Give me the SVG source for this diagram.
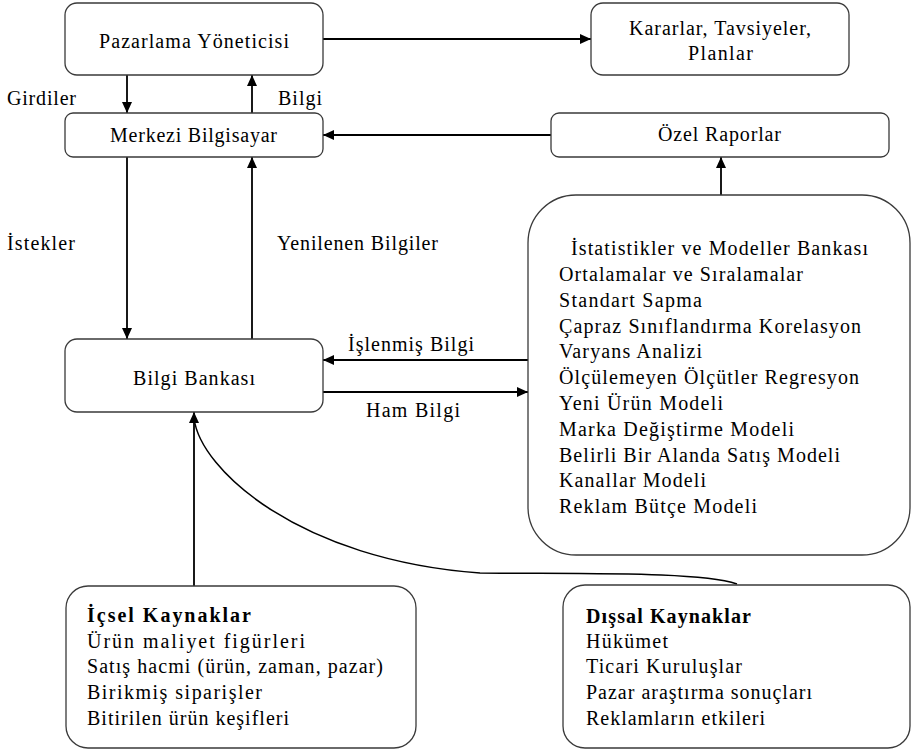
<svg xmlns="http://www.w3.org/2000/svg" width="912" height="750" viewBox="0 0 912 750">
  <style>
    .box { fill: #ffffff; stroke: #3a3a3a; stroke-width: 1.3; }
    .t { font-family: "Liberation Serif", "Times New Roman", serif; font-size: 20px; fill: #000; }
    .b { font-weight: bold; }
    .edge { fill: none; stroke: #000; stroke-width: 1.8; }
    .curve { fill: none; stroke: #000; stroke-width: 1.5; }
  </style>
  <defs>
    <marker id="arrow" markerUnits="userSpaceOnUse" markerWidth="12" markerHeight="10" refX="11" refY="5" orient="auto">
      <path d="M0,0 L11,5 L0,10 z" fill="#000"/>
    </marker>
  </defs>
  <rect width="912" height="750" fill="#ffffff"/>

  <g id="connectors">
    <line class="edge" x1="127" y1="75" x2="127" y2="113" marker-end="url(#arrow)"/>
    <line class="edge" x1="252" y1="113" x2="252" y2="75" marker-end="url(#arrow)"/>
    <line class="edge" x1="323" y1="39" x2="591" y2="39" marker-end="url(#arrow)"/>
    <line class="edge" x1="551" y1="135" x2="323" y2="135" marker-end="url(#arrow)"/>
    <line class="edge" x1="721" y1="195" x2="721" y2="157" marker-end="url(#arrow)"/>
    <line class="edge" x1="127" y1="157" x2="127" y2="339" marker-end="url(#arrow)"/>
    <line class="edge" x1="252" y1="339" x2="252" y2="157" marker-end="url(#arrow)"/>
    <line class="edge" x1="528" y1="360" x2="323" y2="360" marker-end="url(#arrow)"/>
    <line class="edge" x1="323" y1="392" x2="528" y2="392" marker-end="url(#arrow)"/>
    <line class="edge" x1="194" y1="586" x2="194" y2="412" marker-end="url(#arrow)"/>
    <path class="curve" d="M194,418 C200,470 300,560 480,573 C600,574 700,572 737,584"/>
    <text class="t" x="7" y="105" textLength="69">Girdiler</text>
    <text class="t" x="278" y="105" textLength="44">Bilgi</text>
    <text class="t" x="7" y="250" textLength="68">İstekler</text>
    <text class="t" x="277" y="250" textLength="161">Yenilenen Bilgiler</text>
    <text class="t" x="348" y="351" textLength="126">İşlenmiş Bilgi</text>
    <text class="t" x="366" y="417" textLength="94">Ham Bilgi</text>
  </g>

  <g id="pazarlama-yoneticisi">
    <rect class="box" x="65" y="3" width="258" height="72" rx="12"/>
    <text class="t" x="99" y="48" textLength="190">Pazarlama Yöneticisi</text>
  </g>

  <g id="kararlar">
    <rect class="box" x="591" y="3" width="258" height="72" rx="12"/>
    <text class="t" x="629" y="35" textLength="182">Kararlar, Tavsiyeler,</text>
    <text class="t" x="688" y="60" textLength="65">Planlar</text>
  </g>

  <g id="merkezi-bilgisayar">
    <rect class="box" x="65" y="113" width="258" height="44" rx="8"/>
    <text class="t" x="110" y="142" textLength="167">Merkezi Bilgisayar</text>
  </g>

  <g id="ozel-raporlar">
    <rect class="box" x="551" y="113" width="338" height="44" rx="8"/>
    <text class="t" x="658" y="141" textLength="123">Özel Raporlar</text>
  </g>

  <g id="bilgi-bankasi">
    <rect class="box" x="65" y="339" width="258" height="73" rx="12"/>
    <text class="t" x="133" y="385" textLength="122">Bilgi Bankası</text>
  </g>

  <g id="istatistikler">
    <rect class="box" x="528" y="195" width="382" height="360" rx="48"/>
    <text class="t" x="571" y="255" textLength="297">İstatistikler ve Modeller Bankası</text>
    <text class="t" x="559" y="281" textLength="244">Ortalamalar ve Sıralamalar</text>
    <text class="t" x="559" y="307" textLength="143">Standart Sapma</text>
    <text class="t" x="559" y="333" textLength="302">Çapraz Sınıflandırma Korelasyon</text>
    <text class="t" x="559" y="358" textLength="143">Varyans Analizi</text>
    <text class="t" x="559" y="384" textLength="300">Ölçülemeyen Ölçütler Regresyon</text>
    <text class="t" x="559" y="410" textLength="164">Yeni Ürün Modeli</text>
    <text class="t" x="559" y="436" textLength="235">Marka Değiştirme Modeli</text>
    <text class="t" x="559" y="462" textLength="281">Belirli Bir Alanda Satış Modeli</text>
    <text class="t" x="559" y="487" textLength="147">Kanallar Modeli</text>
    <text class="t" x="559" y="513" textLength="198">Reklam Bütçe Modeli</text>
  </g>

  <g id="icsel-kaynaklar">
    <rect class="box" x="66" y="586" width="350" height="162" rx="22"/>
    <text class="t b" x="87" y="622" textLength="164">İçsel  Kaynaklar</text>
    <text class="t" x="87" y="648" textLength="218">Ürün   maliyet  figürleri</text>
    <text class="t" x="87" y="673" textLength="296">Satış hacmi (ürün, zaman, pazar)</text>
    <text class="t" x="87" y="699" textLength="175">Birikmiş siparişler</text>
    <text class="t" x="87" y="725" textLength="202">Bitirilen ürün keşifleri</text>
  </g>

  <g id="dissal-kaynaklar">
    <rect class="box" x="563" y="585" width="347" height="163" rx="22"/>
    <text class="t b" x="586" y="623" textLength="165">Dışsal Kaynaklar</text>
    <text class="t" x="586" y="648" textLength="82">Hükümet</text>
    <text class="t" x="586" y="673" textLength="156">Ticari Kuruluşlar</text>
    <text class="t" x="586" y="699" textLength="226">Pazar araştırma sonuçları</text>
    <text class="t" x="586" y="725" textLength="179">Reklamların etkileri</text>
  </g>
</svg>
